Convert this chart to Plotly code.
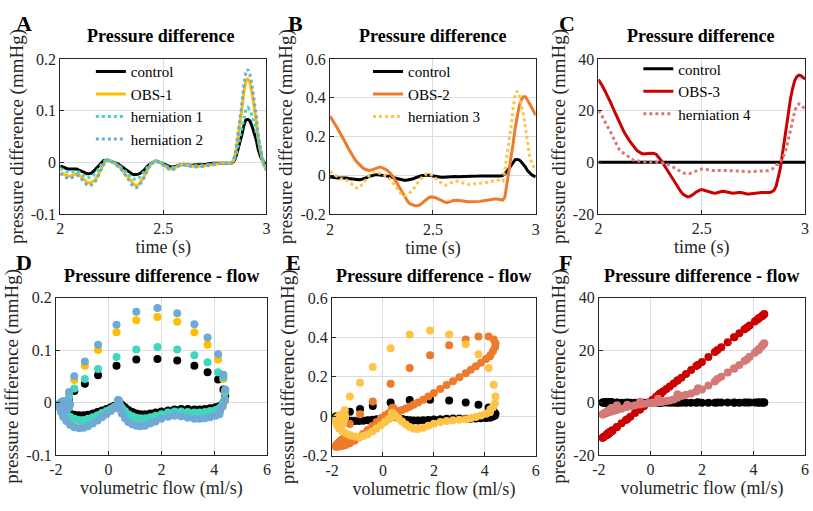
import plotly.graph_objects as go

# ---- sampled cardiac cycle, t = 2.00 ... 3.00 s every 0.01 s ----
time_s = [
    2.00, 2.01, 2.02, 2.03, 2.04, 2.05, 2.06, 2.07, 2.08, 2.09,
    2.10, 2.11, 2.12, 2.13, 2.14, 2.15, 2.16, 2.17, 2.18, 2.19,
    2.20, 2.21, 2.22, 2.23, 2.24, 2.25, 2.26, 2.27, 2.28, 2.29,
    2.30, 2.31, 2.32, 2.33, 2.34, 2.35, 2.36, 2.37, 2.38, 2.39,
    2.40, 2.41, 2.42, 2.43, 2.44, 2.45, 2.46, 2.47, 2.48, 2.49,
    2.50, 2.51, 2.52, 2.53, 2.54, 2.55, 2.56, 2.57, 2.58, 2.59,
    2.60, 2.61, 2.62, 2.63, 2.64, 2.65, 2.66, 2.67, 2.68, 2.69,
    2.70, 2.71, 2.72, 2.73, 2.74, 2.75, 2.76, 2.77, 2.78, 2.79,
    2.80, 2.81, 2.82, 2.83, 2.84, 2.85, 2.86, 2.87, 2.88, 2.89,
    2.90, 2.91, 2.92, 2.93, 2.94, 2.95, 2.96, 2.97, 2.98, 2.99,
    3.00,
]

# volumetric flow (ml/s)
flow = [
    4.20, 4.05, 3.85, 3.65, 3.45, 3.25, 3.00, 2.75, 2.50, 2.25,
    2.00, 1.78, 1.58, 1.38, 1.20, 1.05, 0.90, 0.75, 0.62, 0.50,
    0.42, 0.38, 0.36, 0.36, 0.38, 0.40, 0.40, 0.38, 0.33, 0.22,
    0.08, -0.08, -0.25, -0.42, -0.60, -0.78, -0.95, -1.12, -1.30, -1.46,
    -1.60, -1.72, -1.80, -1.85, -1.85, -1.80, -1.72, -1.62, -1.55, -1.50,
    -1.48, -1.50, -1.55, -1.60, -1.63, -1.65, -1.66, -1.65, -1.62, -1.58,
    -1.56, -1.57, -1.60, -1.63, -1.65, -1.66, -1.65, -1.63, -1.62, -1.63,
    -1.66, -1.68, -1.70, -1.71, -1.70, -1.68, -1.66, -1.64, -1.63, -1.62,
    -1.62, -1.63, -1.64, -1.62, -1.58, -1.50, -1.30, -0.90, -0.40, 0.30,
    1.05, 1.85, 2.60, 3.25, 3.75, 4.15, 4.35, 4.42, 4.40, 4.32,
    4.22,
]

# pressure differences (mmHg)
control = [
    -0.007, -0.009, -0.011, -0.012, -0.013, -0.013, -0.012, -0.012, -0.013, -0.015,
    -0.017, -0.019, -0.021, -0.022, -0.022, -0.021, -0.018, -0.014, -0.009, -0.004,
    0.000, 0.003, 0.004, 0.004, 0.003, 0.001, 0.000, -0.001, -0.003, -0.006,
    -0.009, -0.012, -0.015, -0.018, -0.021, -0.023, -0.024, -0.024, -0.023, -0.021,
    -0.018, -0.014, -0.009, -0.005, -0.002, 0.000, 0.002, 0.002, 0.001, -0.001,
    -0.003, -0.005, -0.007, -0.008, -0.009, -0.009, -0.008, -0.006, -0.005, -0.004,
    -0.004, -0.005, -0.006, -0.006, -0.006, -0.005, -0.005, -0.005, -0.005, -0.005,
    -0.005, -0.004, -0.003, -0.002, -0.002, -0.002, -0.002, -0.002, -0.003, -0.003,
    -0.003, -0.003, -0.003, -0.002, 0.001, 0.008, 0.022, 0.036, 0.052, 0.070,
    0.082, 0.083, 0.080, 0.070, 0.058, 0.044, 0.025, 0.012, 0.004, -0.002,
    -0.007,
]
obs_1 = [
    -0.020, -0.022, -0.024, -0.026, -0.027, -0.027, -0.025, -0.023, -0.022, -0.024,
    -0.028, -0.032, -0.036, -0.039, -0.040, -0.039, -0.037, -0.034, -0.028, -0.020,
    -0.011, -0.003, 0.002, 0.004, 0.003, 0.001, -0.001, -0.003, -0.006, -0.010,
    -0.015, -0.020, -0.025, -0.031, -0.036, -0.041, -0.044, -0.045, -0.043, -0.038,
    -0.032, -0.025, -0.017, -0.010, -0.004, 0.000, 0.002, 0.002, 0.001, -0.002,
    -0.005, -0.008, -0.011, -0.013, -0.013, -0.012, -0.010, -0.007, -0.005, -0.004,
    -0.004, -0.005, -0.006, -0.007, -0.008, -0.008, -0.008, -0.008, -0.008, -0.007,
    -0.007, -0.006, -0.006, -0.006, -0.005, -0.004, -0.003, -0.002, -0.002, -0.002,
    -0.002, -0.003, -0.003, -0.002, 0.003, 0.018, 0.043, 0.070, 0.100, 0.134,
    0.157, 0.163, 0.154, 0.134, 0.110, 0.082, 0.045, 0.020, 0.004, -0.008,
    -0.015,
]
herniation_1 = [
    -0.012, -0.014, -0.016, -0.018, -0.019, -0.019, -0.018, -0.017, -0.017, -0.019,
    -0.022, -0.025, -0.028, -0.030, -0.030, -0.029, -0.026, -0.022, -0.016, -0.010,
    -0.004, 0.001, 0.004, 0.004, 0.003, 0.001, -0.001, -0.002, -0.005, -0.008,
    -0.012, -0.016, -0.020, -0.024, -0.028, -0.031, -0.033, -0.033, -0.031, -0.027,
    -0.022, -0.017, -0.011, -0.006, -0.002, 0.000, 0.002, 0.002, 0.001, -0.001,
    -0.004, -0.006, -0.009, -0.010, -0.011, -0.010, -0.009, -0.007, -0.005, -0.004,
    -0.004, -0.005, -0.006, -0.007, -0.007, -0.007, -0.006, -0.006, -0.006, -0.006,
    -0.006, -0.005, -0.004, -0.003, -0.003, -0.003, -0.002, -0.002, -0.002, -0.003,
    -0.003, -0.003, -0.003, -0.002, 0.002, 0.010, 0.027, 0.045, 0.064, 0.087,
    0.101, 0.106, 0.101, 0.090, 0.077, 0.058, 0.048, 0.022, 0.008, -0.002,
    -0.010,
]
herniation_2 = [
    -0.022, -0.025, -0.028, -0.030, -0.031, -0.031, -0.029, -0.026, -0.025, -0.027,
    -0.031, -0.036, -0.040, -0.044, -0.045, -0.044, -0.041, -0.037, -0.030, -0.021,
    -0.012, -0.004, 0.002, 0.005, 0.004, 0.001, -0.002, -0.004, -0.007, -0.011,
    -0.016, -0.022, -0.028, -0.034, -0.040, -0.045, -0.048, -0.049, -0.047, -0.042,
    -0.035, -0.027, -0.018, -0.010, -0.004, 0.000, 0.002, 0.002, 0.000, -0.003,
    -0.006, -0.009, -0.012, -0.014, -0.015, -0.014, -0.011, -0.008, -0.006, -0.005,
    -0.005, -0.006, -0.007, -0.008, -0.009, -0.009, -0.009, -0.009, -0.009, -0.008,
    -0.008, -0.007, -0.007, -0.006, -0.005, -0.004, -0.003, -0.002, -0.002, -0.002,
    -0.002, -0.003, -0.003, -0.002, 0.004, 0.020, 0.050, 0.078, 0.110, 0.148,
    0.173, 0.180, 0.170, 0.149, 0.124, 0.092, 0.053, 0.025, 0.006, -0.007,
    -0.016,
]
obs_2 = [
    0.305, 0.290, 0.272, 0.254, 0.236, 0.218, 0.198, 0.178, 0.158, 0.138,
    0.118, 0.100, 0.084, 0.070, 0.058, 0.048, 0.039, 0.032, 0.027, 0.026,
    0.028, 0.031, 0.035, 0.040, 0.043, 0.042, 0.038, 0.032, 0.025, 0.015,
    0.003, -0.012, -0.030, -0.050, -0.070, -0.090, -0.108, -0.124, -0.137, -0.146,
    -0.151, -0.154, -0.155, -0.154, -0.149, -0.141, -0.131, -0.121, -0.114, -0.110,
    -0.110, -0.113, -0.118, -0.124, -0.130, -0.135, -0.138, -0.139, -0.137, -0.133,
    -0.129, -0.127, -0.127, -0.129, -0.131, -0.133, -0.134, -0.135, -0.135, -0.135,
    -0.135, -0.135, -0.134, -0.133, -0.131, -0.129, -0.127, -0.125, -0.123, -0.122,
    -0.121, -0.121, -0.122, -0.124, -0.126, -0.110, -0.040, 0.010, 0.075, 0.165,
    0.245, 0.310, 0.360, 0.390, 0.405, 0.405, 0.390, 0.370, 0.350, 0.330,
    0.310,
]
herniation_3 = [
    0.020, 0.012, 0.004, -0.004, -0.011, -0.016, -0.018, -0.020, -0.024, -0.030,
    -0.038, -0.048, -0.058, -0.065, -0.064, -0.055, -0.042, -0.027, -0.012, 0.000,
    0.010, 0.016, 0.018, 0.016, 0.011, 0.006, 0.002, 0.000, -0.006, -0.016,
    -0.030, -0.046, -0.062, -0.078, -0.092, -0.101, -0.105, -0.103, -0.096, -0.087,
    -0.076, -0.062, -0.046, -0.030, -0.017, -0.006, 0.003, 0.009, 0.010, 0.006,
    -0.002, -0.011, -0.021, -0.031, -0.040, -0.047, -0.050, -0.048, -0.043, -0.037,
    -0.032, -0.030, -0.030, -0.033, -0.037, -0.041, -0.044, -0.045, -0.045, -0.044,
    -0.043, -0.042, -0.041, -0.040, -0.040, -0.040, -0.038, -0.035, -0.031, -0.027,
    -0.024, -0.023, -0.024, -0.027, -0.029, 0.030, 0.100, 0.170, 0.250, 0.345,
    0.415, 0.435, 0.415, 0.365, 0.315, 0.245, 0.160, 0.100, 0.065, 0.045,
    0.035,
]
obs_3 = [
    32.0, 30.9, 29.4, 27.9, 26.4, 24.9, 23.0, 21.1, 19.3, 17.4,
    15.5, 13.9, 12.4, 10.9, 9.5, 8.4, 7.3, 6.1, 5.2, 4.3,
    3.7, 3.4, 3.2, 3.2, 3.4, 3.5, 3.5, 3.4, 3.0, 2.2,
    1.1, -0.1, -1.4, -2.7, -4.0, -5.4, -6.6, -7.9, -9.3, -10.5,
    -11.5, -12.4, -13.0, -13.4, -13.4, -13.0, -12.4, -11.7, -11.1, -10.8,
    -10.6, -10.8, -11.1, -11.5, -11.7, -11.9, -12.0, -11.9, -11.7, -11.4,
    -11.2, -11.3, -11.5, -11.7, -11.9, -12.0, -11.9, -11.7, -11.7, -11.7,
    -12.0, -12.1, -12.3, -12.3, -12.3, -12.1, -12.0, -11.8, -11.7, -11.7,
    -11.7, -11.7, -11.8, -11.7, -11.4, -10.8, -9.3, -6.3, -2.5, 2.8,
    8.4, 14.4, 20.0, 24.9, 28.6, 31.6, 33.1, 33.7, 33.5, 32.9,
    32.2,
]
herniation_4 = [
    20.0, 19.0, 17.5, 15.8, 14.3, 13.0, 11.5, 9.8, 8.0, 6.5,
    5.0, 4.2, 3.5, 3.0, 2.5, 1.8, 1.2, 0.8, 0.6, 0.4,
    0.3, 0.25, 0.2, 0.2, 0.2, 0.25, 0.25, 0.2, 0.1, 0.0,
    -0.1, -0.2, -0.4, -0.7, -1.0, -1.4, -1.8, -2.3, -2.8, -3.3,
    -3.7, -4.1, -4.3, -4.5, -4.4, -4.1, -3.8, -3.4, -3.1, -2.8,
    -2.6, -2.6, -2.8, -3.0, -3.1, -3.2, -3.2, -3.2, -3.1, -3.0,
    -3.0, -3.0, -3.1, -3.2, -3.3, -3.4, -3.4, -3.4, -3.4, -3.4,
    -3.5, -3.6, -3.7, -3.7, -3.7, -3.7, -3.6, -3.5, -3.4, -3.3,
    -3.3, -3.3, -3.3, -3.1, -2.7, -2.0, -1.0, -0.8, 0.3, 1.5,
    3.2, 5.5, 9.0, 13.0, 16.5, 19.8, 21.8, 22.6, 22.4, 21.5,
    20.5,
]

# axis ticks
time_ticks = [2, 2.5, 3]
time_ticktext = ["2", "2.5", "3"]
flow_ticks = [-2, 0, 2, 4, 6]
flow_ticktext = ["-2", "0", "2", "4", "6"]
p_ticks_a = [-0.1, 0, 0.1, 0.2]
p_ticktext_a = ["-0.1", "0", "0.1", "0.2"]
p_ticks_b = [-0.2, 0, 0.2, 0.4, 0.6]
p_ticktext_b = ["-0.2", "0", "0.2", "0.4", "0.6"]
p_ticks_c = [-20, 0, 20, 40]
p_ticktext_c = ["-20", "0", "20", "40"]

# colours
C_CONTROL = "#000000"
C_OBS1 = "#FFBF00"
C_HERN1 = "#3FD7BE"
C_HERN2 = "#6FA9D6"
C_OBS2 = "#EE7B2C"
C_HERN3 = "#FFC347"
C_OBS3 = "#CC0000"
C_HERN4 = "#D47878"

FONT = "Liberation Serif"
W, H = 813, 511


def fx(p):
    return p / W


def fy(p):
    return 1 - p / H


fig = go.Figure()

panels = {
    # subplot: (x0, x1, y_top, y_bottom) in pixels
    1: (54, 263, 52.7, 213),
    2: (327.5, 536, 52.7, 213.5),
    3: (599.5, 809, 52.7, 213),
    4: (49.5, 263.5, 299.5, 462.5),
    5: (329.5, 536, 300, 463),
    6: (600, 809, 299.5, 462.5),
}

top_series = [
    (1, "legend", [(control, "control", C_CONTROL, "solid"),
                   (obs_1, "OBS-1", C_OBS1, "solid"),
                   (herniation_1, "herniation 1", C_HERN1, "dot"),
                   (herniation_2, "herniation 2", C_HERN2, "dot")]),
    (2, "legend2", [(control, "control", C_CONTROL, "solid"),
                    (obs_2, "OBS-2", C_OBS2, "solid"),
                    (herniation_3, "herniation 3", C_HERN3, "dot")]),
    (3, "legend3", [(control, "control", C_CONTROL, "solid"),
                    (obs_3, "OBS-3", C_OBS3, "solid"),
                    (herniation_4, "herniation 4", C_HERN4, "dot")]),
]

for idx, leg, series in top_series:
    ax = "" if idx == 1 else str(idx)
    for vals, name, col, dash in series:
        fig.add_trace(go.Scatter(
            x=time_s, y=vals, mode="lines", name=name,
            line=dict(color=col, width=3, dash=dash),
            xaxis="x" + ax, yaxis="y" + ax, legend=leg,
        ))

bottom_series = [
    (4, [(control, C_CONTROL), (obs_1, C_OBS1), (herniation_1, C_HERN1), (herniation_2, C_HERN2)]),
    (5, [(control, C_CONTROL), (obs_2, C_OBS2), (herniation_3, C_HERN3)]),
    (6, [(control, C_CONTROL), (obs_3, C_OBS3), (herniation_4, C_HERN4)]),
]
for idx, series in bottom_series:
    ax = str(idx)
    for vals, col in series:
        fig.add_trace(go.Scatter(
            x=flow, y=vals, mode="markers", showlegend=False,
            marker=dict(color=col, size=8, line=dict(width=0)),
            xaxis="x" + ax, yaxis="y" + ax,
        ))

axis_font = dict(family=FONT, size=16, color="#262626")
xlabel_font = dict(family=FONT, size=18, color="#262626")
ylabel_font = dict(family=FONT, size=19, color="#262626")


def make_axes(idx, xr, xt, xtt, xtitle, yr, yt, ytt):
    x0, x1, yt_px, yb_px = panels[idx]
    common = dict(showgrid=True, gridcolor="#DCDCDC", gridwidth=1, zeroline=False,
                  showline=True, linecolor="#262626", linewidth=1, mirror=True,
                  ticks="inside", ticklen=4, tickcolor="#262626", tickfont=axis_font)
    ax = "" if idx == 1 else str(idx)
    fig.layout["xaxis" + ax] = dict(
        domain=[fx(x0), fx(x1)], range=xr, tickvals=xt, ticktext=xtt,
        anchor="y" + ax, title=dict(text=xtitle, font=xlabel_font, standoff=2), **common)
    fig.layout["yaxis" + ax] = dict(
        domain=[fy(yb_px), fy(yt_px)], range=yr, tickvals=yt, ticktext=ytt,
        anchor="x" + ax, title=dict(text="pressure difference (mmHg)", font=ylabel_font, standoff=2),
        **common)


make_axes(1, [2, 3], time_ticks, time_ticktext, "time (s)", [-0.1, 0.2], p_ticks_a, p_ticktext_a)
make_axes(2, [2, 3], time_ticks, time_ticktext, "time (s)", [-0.2, 0.6], p_ticks_b, p_ticktext_b)
make_axes(3, [2, 3], time_ticks, time_ticktext, "time (s)", [-20, 40], p_ticks_c, p_ticktext_c)
make_axes(4, [-2, 6], flow_ticks, flow_ticktext, "volumetric flow (ml/s)", [-0.1, 0.2], p_ticks_a, p_ticktext_a)
make_axes(5, [-2, 6], flow_ticks, flow_ticktext, "volumetric flow (ml/s)", [-0.2, 0.6], p_ticks_b, p_ticktext_b)
make_axes(6, [-2, 6], flow_ticks, flow_ticktext, "volumetric flow (ml/s)", [-20, 40], p_ticks_c, p_ticktext_c)

legend_common = dict(bgcolor="rgba(0,0,0,0)", borderwidth=0, xanchor="left", yanchor="top",
                     font=dict(family=FONT, size=15, color="#000000"),
                     itemwidth=30, tracegroupgap=0, itemclick=False)
fig.update_layout(
    legend=dict(x=fx(85), y=fy(49), **legend_common),
    legend2=dict(x=fx(366), y=fy(49), **legend_common),
    legend3=dict(x=fx(640), y=fy(46), **legend_common),
)

annotations = []
titles = [
    ("Pressure difference", 156, 29),
    ("Pressure difference", 431, 29),
    ("Pressure difference", 703, 29),
    ("Pressure difference - flow", 157, 277),
    ("Pressure difference - flow", 432, 277),
    ("Pressure difference - flow", 704, 277),
]
for text, cx, cy in titles:
    annotations.append(dict(text="<b>%s</b>" % text, x=fx(cx), y=fy(cy), xref="paper", yref="paper",
                            showarrow=False, xanchor="center", yanchor="middle",
                            font=dict(family=FONT, size=18, color="#000000")))
letters = [("A", 17, 16), ("B", 292, 16), ("C", 568, 16), ("D", 17, 263), ("E", 290, 263), ("F", 566, 263)]
for text, cx, cy in letters:
    annotations.append(dict(text="<b>%s</b>" % text, x=fx(cx), y=fy(cy), xref="paper", yref="paper",
                            showarrow=False, xanchor="center", yanchor="middle",
                            font=dict(family=FONT, size=22, color="#000000")))

fig.update_layout(
    width=W, height=H, margin=dict(l=0, r=0, t=0, b=0),
    paper_bgcolor="white", plot_bgcolor="white",
    annotations=annotations,
    font=dict(family=FONT),
)

fig.write_html("out.html", config={"displayModeBar": False})
